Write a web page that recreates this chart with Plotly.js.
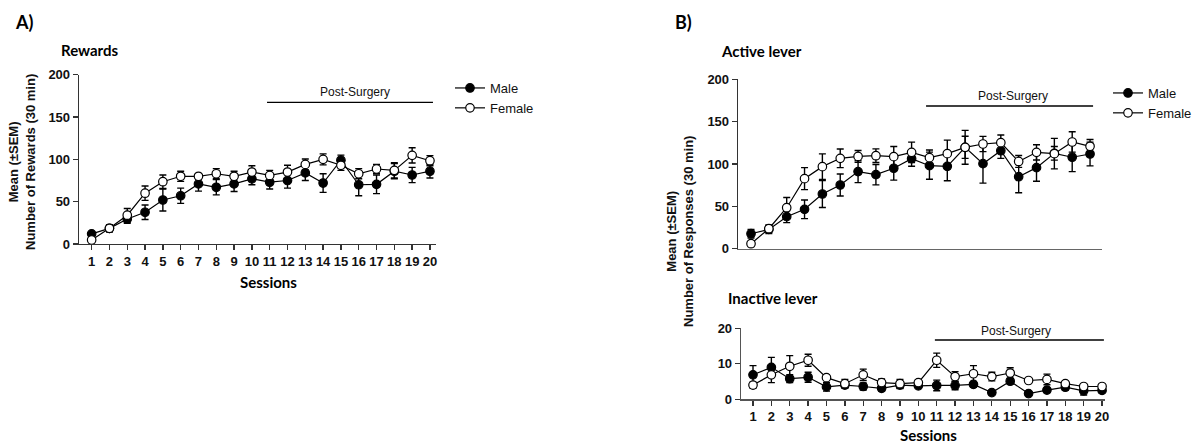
<!DOCTYPE html>
<html>
<head>
<meta charset="utf-8">
<script src="https://cdn.plot.ly/plotly-3.0.1.min.js"></script>
<style>html,body{margin:0;padding:0;background:#fff;}#chart{width:1202px;height:446px;}</style>
</head>
<body>
<div id="chart"></div>
<script>
// ---- Data ----
const sessions = [1,2,3,4,5,6,7,8,9,10,11,12,13,14,15,16,17,18,19,20];
const tickLabels = sessions.map(String);

// A) Rewards
const rewardsMale      = [12,18.5,29.5,37.5,52,57,71,67,71,77,73,75,84,72,99,70,70.5,86,81.5,86];
const rewardsMaleSEM   = [2,4,5,8.5,13,9,8.5,9,9,7,8,9,9,11,6,13,11,9,9,8];
const rewardsFemale    = [4.7,18.5,34,60,73.6,80,80,83,80,85,81,85,94,100,93,83,88.6,87,104.7,98.4];
const rewardsFemaleSEM = [1,4,8,8.5,8,6,3,6,6,7.5,6,8,6.5,6.5,6,6,5.5,9,9,6];

// B) Active lever
const activeMale      = [17.7,22.8,37.8,46.5,64.6,75.2,91,87.4,95,106.3,98,97.2,119.7,100.4,115.7,85,95.7,112.6,108,111.8];
const activeMaleSEM   = [5,5,7,11,16,13,13,12,14,9,16,17,13,23,9,19,16,8,17,14];
const activeFemale    = [5.9,23.6,48.4,82.7,96.9,106.7,109,109.8,108.7,113.8,107.5,112.2,119.7,123.6,125.2,103,113.8,112.2,126,120.9];
const activeFemaleSEM = [1,4,12,13,15,11,7,8,12,12,9,16,20,9,9,7,9,18,12,8];

// B) Inactive lever
const inactiveMale      = [6.9,9,5.8,6.2,3.5,4,3.6,3.1,4,3.8,3.9,3.9,4.2,1.9,5.1,1.6,2.6,3.4,2.4,2.5];
const inactiveMaleSEM   = [2.6,2.8,1.1,1.4,1.2,0.7,1,0.8,1,0.5,1.5,1.2,0.8,0.5,0.8,0.4,0.5,0.8,1.2,0.7];
const inactiveFemale    = [4,6.9,9.3,11,6.1,4.4,6.9,4.7,4.4,4.7,11,6.4,7.2,6.4,7.4,5.3,5.6,4.4,3.6,3.6];
const inactiveFemaleSEM = [0.8,2.2,3,1.7,0.8,1.2,1.6,1,1.2,0.8,2,1.4,2.3,1.2,1.5,0.5,1.5,0.6,0.6,0.6];

const seriesNames = ['Male','Female'];
const postSurgeryLabel = 'Post-Surgery';

// ---- Helpers ----
const W = 1202, H = 446;
const px = x => x / W;
const py = y => 1 - y / H;

const TITLE_FONT = 'Lato, Open Sans, sans-serif';
const ARIAL = 'Liberation Sans, Arial, sans-serif';

function series(x, y, sem, name, filled, xa, ya, legend, showlegend) {
  return {
    type: 'scatter', mode: 'lines+markers', x: x, y: y, name: name,
    xaxis: xa, yaxis: ya, legend: legend, showlegend: showlegend,
    line: {color: '#000', width: 1.2},
    marker: {symbol: 'circle', size: 8.5, color: filled ? '#000' : '#fff', line: {color: '#000', width: 1.2}},
    error_y: {type: 'data', array: sem, visible: true, color: '#000', thickness: 1.4, width: 3.5},
    cliponaxis: false
  };
}

const traces = [
  series(sessions, rewardsMale, rewardsMaleSEM, seriesNames[0], true, 'x', 'y', 'legend', true),
  series(sessions, rewardsFemale, rewardsFemaleSEM, seriesNames[1], false, 'x', 'y', 'legend', true),
  series(sessions, activeMale, activeMaleSEM, seriesNames[0], true, 'x2', 'y2', 'legend2', true),
  series(sessions, activeFemale, activeFemaleSEM, seriesNames[1], false, 'x2', 'y2', 'legend2', true),
  series(sessions, inactiveMale, inactiveMaleSEM, seriesNames[0], true, 'x3', 'y3', 'legend2', false),
  series(sessions, inactiveFemale, inactiveFemaleSEM, seriesNames[1], false, 'x3', 'y3', 'legend2', false)
];

const axisBase = {
  showline: true, linecolor: '#333', linewidth: 1.3, mirror: false,
  ticks: 'outside', ticklen: 5, tickwidth: 1.3, tickcolor: '#333',
  showgrid: false, zeroline: false, fixedrange: true,
  tickfont: {family: ARIAL, size: 13, color: '#111', weight: 'bold'}
};

function label(text, x, y, font, extra) {
  return Object.assign({text: text, xref: 'paper', yref: 'paper', x: px(x), y: py(y),
    xanchor: 'center', yanchor: 'middle', showarrow: false, font: font}, extra || {});
}
const titleFont = s => ({family: TITLE_FONT, size: s, color: '#000', weight: 'bold'});
const arialBold = {family: ARIAL, size: 13, color: '#111', weight: 'bold'};
const arialReg = {family: ARIAL, size: 12, color: '#111'};

const layout = {
  width: W, height: H,
  margin: {l: 0, r: 0, t: 0, b: 0},
  paper_bgcolor: '#fff', plot_bgcolor: '#fff',
  xaxis: Object.assign({}, axisBase, {
    domain: [px(79), px(436)], range: [0.29, 20.34], anchor: 'y',
    tickmode: 'array', tickvals: sessions, ticktext: tickLabels, tickangle: 0
  }),
  yaxis: Object.assign({}, axisBase, {
    domain: [py(244), py(74.7)], range: [0, 200], anchor: 'x',
    tickmode: 'linear', tick0: 0, dtick: 50
  }),
  xaxis2: Object.assign({}, axisBase, {
    domain: [px(738), px(1102)], range: [0.271, 20.67], anchor: 'y2',
    ticks: '', showticklabels: false, linecolor: '#666'
  }),
  yaxis2: Object.assign({}, axisBase, {
    domain: [py(248.7), py(79.3)], range: [0, 200], anchor: 'x2',
    tickmode: 'linear', tick0: 0, dtick: 50
  }),
  xaxis3: Object.assign({}, axisBase, {
    domain: [px(741), px(1105)], range: [0.347, 20.16], anchor: 'y3',
    tickmode: 'array', tickvals: sessions, ticktext: tickLabels, tickangle: 0, linecolor: '#555'
  }),
  yaxis3: Object.assign({}, axisBase, {
    domain: [py(399.3), py(328.3)], range: [0, 20], anchor: 'x3',
    tickmode: 'linear', tick0: 0, dtick: 10, linecolor: '#555'
  }),
  legend: {
    x: px(450), y: py(73), xanchor: 'left', yanchor: 'top',
    font: {family: ARIAL, size: 13, color: '#111'}, bgcolor: 'rgba(0,0,0,0)',
    tracegroupgap: 0
  },
  legend2: {
    x: px(1108), y: py(78), xanchor: 'left', yanchor: 'top',
    font: {family: ARIAL, size: 13, color: '#111'}, bgcolor: 'rgba(0,0,0,0)',
    tracegroupgap: 0
  },
  shapes: [
    {type: 'line', xref: 'x', yref: 'y', x0: 10.85, x1: 20.17, y0: 167.4, y1: 167.4, line: {color: '#000', width: 1.3}},
    {type: 'line', xref: 'x2', yref: 'y2', x0: 10.81, x1: 20.17, y0: 168.5, y1: 168.5, line: {color: '#000', width: 1.3}},
    {type: 'line', xref: 'x3', yref: 'y3', x0: 10.9, x1: 20.1, y0: 16.7, y1: 16.7, line: {color: '#000', width: 1.3}}
  ],
  annotations: [
    {text: postSurgeryLabel, xref: 'x', yref: 'y', x: 15.8, y: 179, xanchor: 'center', yanchor: 'middle', showarrow: false, font: arialReg},
    {text: postSurgeryLabel, xref: 'x2', yref: 'y2', x: 15.69, y: 180, xanchor: 'center', yanchor: 'middle', showarrow: false, font: arialReg},
    {text: postSurgeryLabel, xref: 'x3', yref: 'y3', x: 15.3, y: 19.2, xanchor: 'center', yanchor: 'middle', showarrow: false, font: arialReg},
    label('A)', 24, 22, titleFont(18)),
    label('B)', 683, 22, titleFont(18)),
    label('Rewards', 59, 50, titleFont(15), {xanchor: 'left'}),
    label('Active lever', 719, 51, titleFont(15), {xanchor: 'left'}),
    label('Inactive lever', 726, 298, titleFont(15), {xanchor: 'left'}),
    label('Sessions', 268, 282, titleFont(15)),
    label('Sessions', 928, 435, titleFont(15)),
    label('Mean (±SEM)<br>Number of Rewards (30 min)', 22, 162, arialBold, {textangle: -90}),
    label('Mean (±SEM)<br>Number of Responses (30 min)', 680, 232, arialBold, {textangle: -90})
  ]
};

Plotly.newPlot('chart', traces, layout, {displayModeBar: false, staticPlot: true});
</script>
</body>
</html>
